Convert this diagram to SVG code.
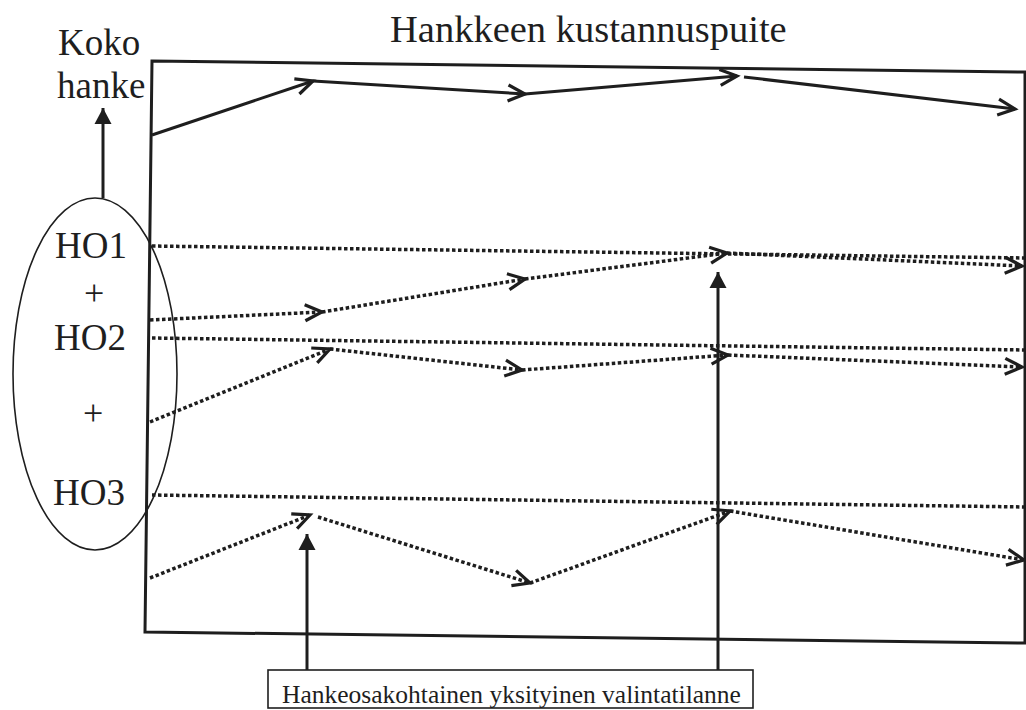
<svg xmlns="http://www.w3.org/2000/svg" width="1026" height="710" viewBox="0 0 1026 710">
<style>
.t{font-family:'Liberation Serif','Times New Roman','DejaVu Serif',serif;fill:#1e1e1e}
.solid{stroke:#1e1e1e;stroke-width:3;fill:none}
.dot{stroke:#1e1e1e;stroke-width:3.5;fill:none;stroke-dasharray:3.5 2.5}
</style>
<defs>
<marker id="chev" markerUnits="userSpaceOnUse" markerWidth="30" markerHeight="30" viewBox="-20 -15 30 30" refX="0" refY="0" orient="auto">
<path d="M-17,-8 L0,0 L-17,8" fill="none" stroke="#1e1e1e" stroke-width="3.2"/>
</marker>
<marker id="tri" markerUnits="userSpaceOnUse" markerWidth="30" markerHeight="30" viewBox="-20 -15 30 30" refX="0" refY="0" orient="auto">
<path d="M-16,-8.5 L0,0 L-16,8.5 Z" fill="#1e1e1e"/>
</marker>
</defs>
<rect width="1026" height="710" fill="#fff"/>

<g id="title"><text class="t" font-family="Liberation Serif, serif" x="390" y="42" font-size="38.5">Hankkeen kustannuspuite</text></g>
<g id="koko-hanke">
<text class="t" font-family="Liberation Serif, serif" x="58" y="55" font-size="37">Koko</text>
<text class="t" font-family="Liberation Serif, serif" x="57" y="98" font-size="37">hanke</text>
</g>
<g id="frame"><polygon points="152,61 1025,72 1025,643 145,632" fill="none" stroke="#1e1e1e" stroke-width="3"/></g>

<g id="hankeosat">
<ellipse cx="95" cy="374" rx="82" ry="176" fill="none" stroke="#1e1e1e" stroke-width="1.6"/>
<text class="t" font-family="Liberation Serif, serif" x="55" y="258" font-size="37">HO1</text>
<text class="t" font-family="Liberation Serif, serif" x="84" y="305" font-size="36">+</text>
<text class="t" font-family="Liberation Serif, serif" x="54" y="350" font-size="37">HO2</text>
<text class="t" font-family="Liberation Serif, serif" x="83" y="425" font-size="36">+</text>
<text class="t" font-family="Liberation Serif, serif" x="53" y="505" font-size="37">HO3</text>
</g>

<g id="label">
<rect x="268" y="670" width="485" height="38" fill="#fff" stroke="#1e1e1e" stroke-width="1.6"/>
<text class="t" font-family="Liberation Serif, serif" x="282" y="703" font-size="25.5">Hankeosakohtainen yksityinen valintatilanne</text>
</g>

<g id="connectors">
<line class="solid" x1="103" y1="198" x2="103" y2="108" marker-end="url(#tri)"/>
<line class="solid" x1="307" y1="670" x2="307" y2="534" marker-end="url(#tri)"/>
<line class="solid" x1="718" y1="670" x2="718" y2="272" marker-end="url(#tri)"/>

<line class="solid" x1="152" y1="135" x2="313" y2="81" marker-end="url(#chev)"/>
<line class="solid" x1="313" y1="81" x2="525" y2="94" marker-end="url(#chev)"/>
<line class="solid" x1="525" y1="94" x2="737" y2="76" marker-end="url(#chev)"/>
<line class="solid" x1="744" y1="77" x2="1015" y2="109" marker-end="url(#chev)"/>

<line class="dot" x1="152" y1="246" x2="1026" y2="258"/>
<line class="dot" x1="150" y1="320" x2="322" y2="312" marker-end="url(#chev)"/>
<line class="dot" x1="322" y1="312" x2="525" y2="279" marker-end="url(#chev)"/>
<line class="dot" x1="525" y1="279" x2="727" y2="253" marker-end="url(#chev)"/>
<line class="dot" x1="727" y1="253" x2="1022" y2="266" marker-end="url(#chev)"/>

<line class="dot" x1="152" y1="338" x2="1026" y2="350"/>
<line class="dot" x1="150" y1="422" x2="330" y2="349" marker-end="url(#chev)"/>
<line class="dot" x1="330" y1="349" x2="522" y2="370" marker-end="url(#chev)"/>
<line class="dot" x1="522" y1="370" x2="728" y2="355" marker-end="url(#chev)"/>
<line class="dot" x1="728" y1="355" x2="1022" y2="367" marker-end="url(#chev)"/>

<line class="dot" x1="152" y1="495" x2="1026" y2="507"/>
<line class="dot" x1="150" y1="578" x2="310" y2="515" marker-end="url(#chev)"/>
<line class="dot" x1="318" y1="517" x2="530" y2="583" marker-end="url(#chev)"/>
<line class="dot" x1="530" y1="583" x2="730" y2="511" marker-end="url(#chev)"/>
<line class="dot" x1="730" y1="511" x2="1024" y2="560" marker-end="url(#chev)"/>
</g>
</svg>
